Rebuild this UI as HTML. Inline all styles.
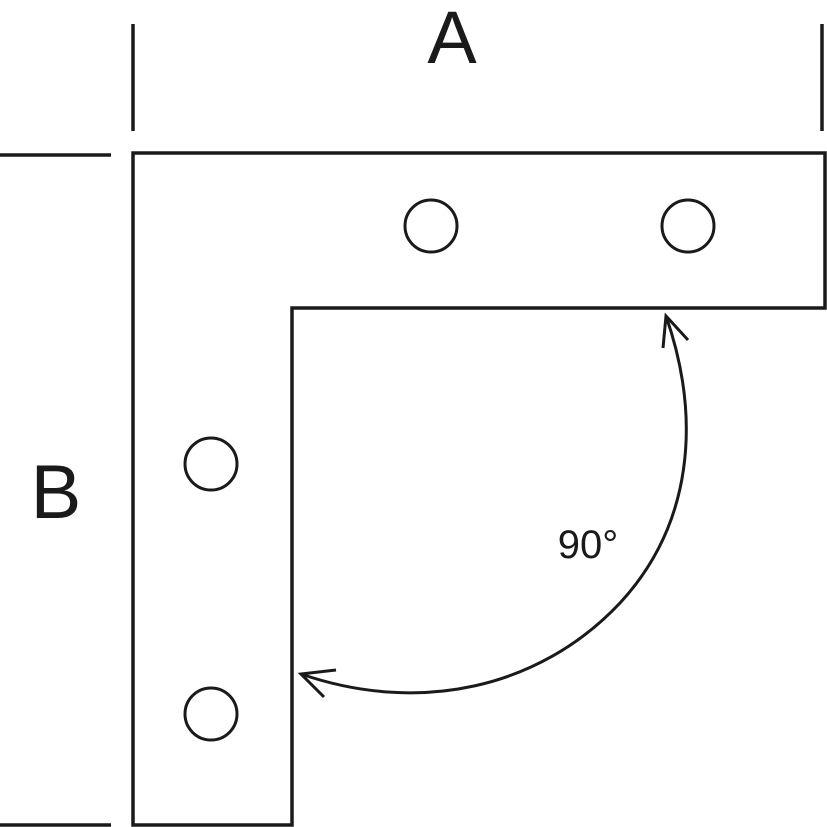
<!DOCTYPE html>
<html><head><style>html,body{margin:0;padding:0;background:#fff}svg{display:block}</style></head>
<body>
<svg width="827" height="827" viewBox="0 0 827 827" xmlns="http://www.w3.org/2000/svg">
<g fill="none" stroke="#1a1a1a" stroke-width="3.5">
<path d="M133,153 H825 V308 H292 V825 H133 Z"/>
<line x1="133" y1="24" x2="133" y2="131"/>
<line x1="822" y1="24" x2="822" y2="131"/>
<line x1="0" y1="155" x2="111" y2="155"/>
<line x1="0" y1="825" x2="111" y2="825"/>
<circle cx="431" cy="226" r="26" stroke-width="3"/>
<circle cx="688" cy="226" r="26" stroke-width="3"/>
<circle cx="211" cy="464" r="26" stroke-width="3"/>
<circle cx="211" cy="714" r="26" stroke-width="3"/>
<path d="M666,316 C702,420 692,525 620,603 C540,688 420,715 301,674" stroke-width="3"/>
<path d="M663,348 L666,316 L688,340" stroke-width="3"/>
<path d="M336,670 L301,674 L324,697" stroke-width="3"/>
</g>
<g fill="#1a1a1a" font-family="Liberation Sans, sans-serif">
<text x="452" y="63" font-size="74" text-anchor="middle">A</text>
<text x="56" y="518" font-size="76" text-anchor="middle">B</text>
<text x="588" y="558" font-size="40" text-anchor="middle">90°</text>
</g>
</svg>
</body></html>
